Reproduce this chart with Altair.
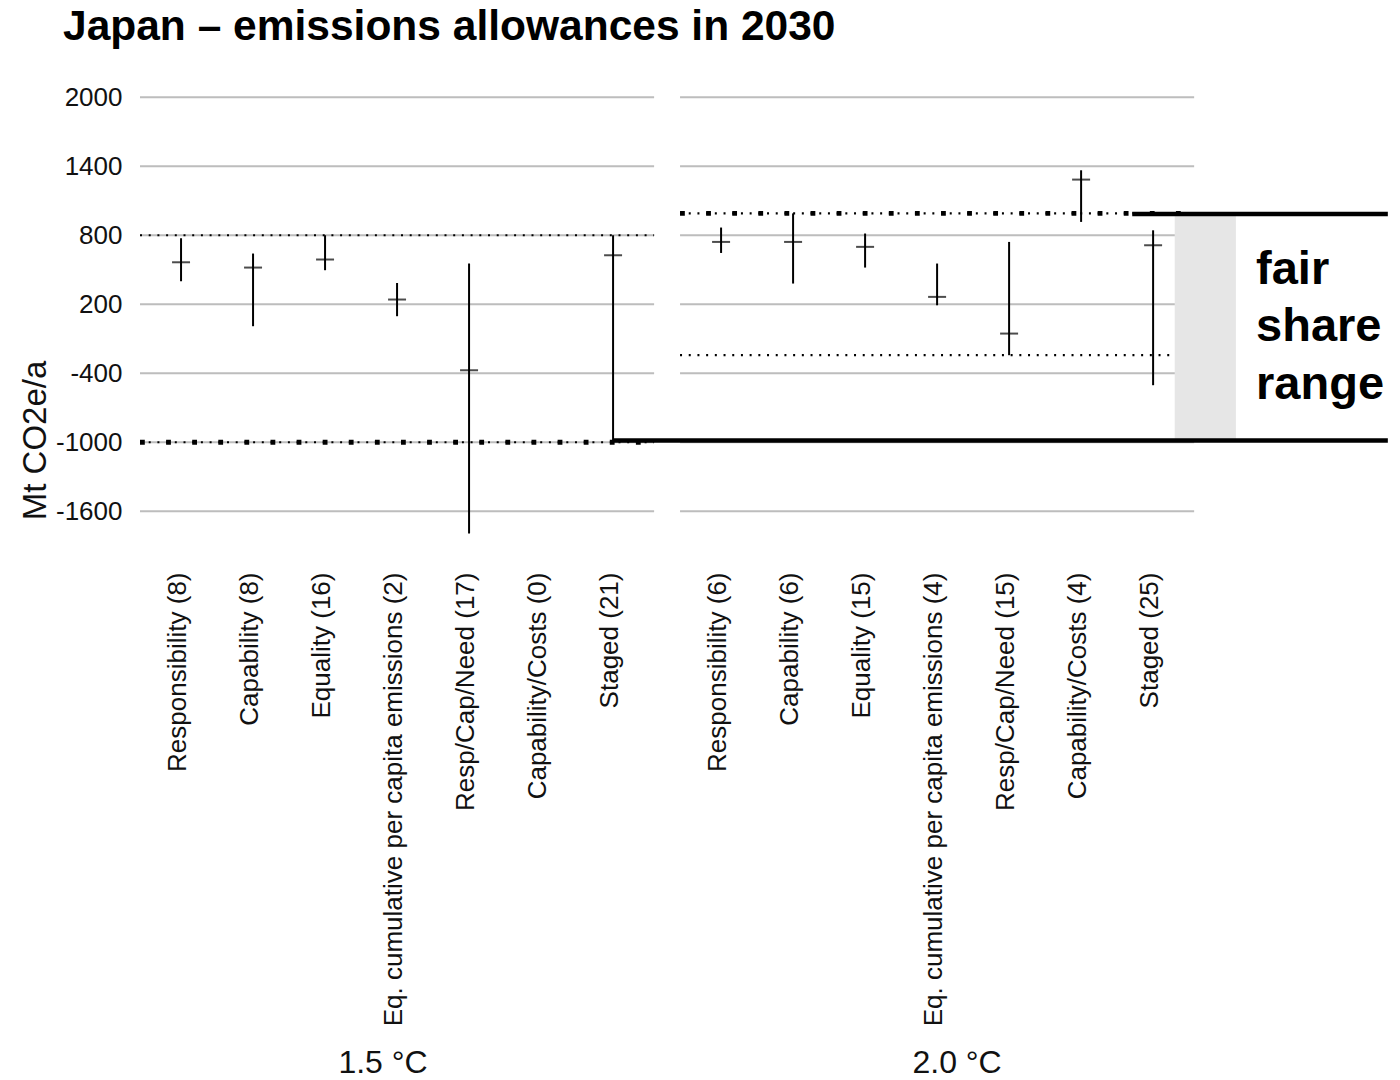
import json

import altair as alt
import pandas as pd

# ---- data -------------------------------------------------------------
panels = ["1.5 °C", "2.0 °C"]
categories = [
    "Responsibility",
    "Capability",
    "Equality",
    "Eq. cumulative per capita emissions",
    "Resp/Cap/Need",
    "Capability/Costs",
    "Staged",
]
counts_15 = [8, 8, 16, 2, 17, 0, 21]
counts_20 = [6, 6, 15, 4, 15, 4, 25]

median_15 = [565, 519, 589, 241, -374, None, 626]
low_15 = [400, 9, 496, 96, -1794, None, -1000]
high_15 = [774, 641, 800, 385, 554, None, 800]

median_20 = [742, 742, 699, 264, -55, 1284, 713]
low_20 = [646, 380, 519, 191, -243, 916, -504]
high_20 = [867, 990, 815, 554, 742, 1365, 843]

# panel-wide reference levels (upper, lower) and which one is the bold pattern
upper_ref = [800, 990]
lower_ref = [-1000, -243]
bold_ref = ["lower", "upper"]

fair_share = [-985, 985]
fair_share_label = ["fair", "share", "range"]
title_text = "Japan – emissions allowances in 2030"
y_title = "Mt CO2e/a"
y_ticks = [-1600, -1000, -400, 200, 800, 1400, 2000]

# ---- layout helpers ---------------------------------------------------
FONT = "Liberation Sans"
PANEL_STEP = 7.5          # slot distance between the two panels
HALF_SPAN = 3.57          # half width of one panel, in slots
ANNOT_END = 16.76         # right end of the fair-share brackets

counts = [counts_15, counts_20]
medians = [median_15, median_20]
lows = [low_15, low_20]
highs = [high_15, high_20]

def slot(p, i):
    return p * PANEL_STEP + i

tick_pos, tick_lab = [], []
for p in range(len(panels)):
    for i, c in enumerate(categories):
        tick_pos.append(slot(p, i))
        tick_lab.append(f"{c} ({counts[p][i]})")

cross_rows = []
for p in range(len(panels)):
    for i in range(len(categories)):
        if medians[p][i] is None:
            continue
        cross_rows.append(dict(x=slot(p, i), low=lows[p][i], high=highs[p][i], mid=medians[p][i]))
crosses = pd.DataFrame(cross_rows)

centers = [slot(p, (len(categories) - 1) / 2) for p in range(len(panels))]
grid_rows = [dict(x=c - HALF_SPAN, x2=c + HALF_SPAN, y=v) for c in centers for v in y_ticks]
grid = pd.DataFrame(grid_rows)

ref_rows, bold_rows = [], []
for p, c in enumerate(centers):
    for kind, v in (("upper", upper_ref[p]), ("lower", lower_ref[p])):
        row = dict(x=c - HALF_SPAN, x2=c + HALF_SPAN, y=v)
        ref_rows.append(row)
        if bold_ref[p] == kind:
            bold_rows.append(row)
refs = pd.DataFrame(ref_rows)
bold_refs = pd.DataFrame(bold_rows)

last = len(categories) - 1
brackets = pd.DataFrame([
    dict(x=slot(0, last), x2=ANNOT_END, y=fair_share[0]),
    dict(x=slot(1, last) - 0.29, x2=ANNOT_END, y=fair_share[1]),
])
band = pd.DataFrame([dict(x=slot(1, last) + 0.3, x2=slot(1, last) + 1.15,
                          y=fair_share[0], y2=fair_share[1])])
band_label = pd.DataFrame([dict(x=slot(1, last) + 1.43, y=sum(fair_share) / 2)])

label_expr = f"{json.dumps(tick_lab)}[indexof({json.dumps(tick_pos)}, datum.value)]"

x_scale = alt.Scale(domain=[-0.57, 16.79], nice=False, zero=False)
y_scale = alt.Scale(domain=[-1850, 2150], nice=False, zero=False)

x_axis = alt.Axis(
    values=tick_pos, labelExpr=label_expr, labelAngle=270, labelFontSize=26,
    labelPadding=32, labelOffset=-4, ticks=False, domain=False, grid=False, title=None,
    labelFont=FONT, labelColor="#111111", labelLimit=1000,
    labelOverlap=False, labelBound=False, labelFlush=False,
)
y_axis = alt.Axis(
    values=y_ticks, labelExpr="'' + datum.value", labelFontSize=26,
    labelPadding=18, ticks=False, domain=False,
    grid=False, title=y_title, titleFontSize=33, titleFontWeight="normal",
    titleFont=FONT, labelFont=FONT, labelColor="#111111", titleColor="#111111",
    titleX=-105, titleY=360, titleAngle=270, titleBaseline="middle",
    titleAlign="center", labelOverlap=False, labelFlush=False,
)

def X(field):
    return alt.X(f"{field}:Q", scale=x_scale, axis=x_axis)

def Y(field):
    return alt.Y(f"{field}:Q", scale=y_scale, axis=y_axis)

# ---- layers -------------------------------------------------------------
grid_layer = alt.Chart(grid).mark_rule(color="#bdbdbd", strokeWidth=2).encode(
    x=X("x"), x2="x2", y=Y("y"))

dots_layer = alt.Chart(refs).mark_rule(
    color="black", strokeWidth=2.2, strokeDash=[2, 6.7]).encode(
    x=X("x"), x2="x2", y=Y("y"))

squares_layer = alt.Chart(bold_refs).mark_rule(
    color="black", strokeWidth=4.8, strokeDash=[4.8, 21.3]).encode(
    x=X("x"), x2="x2", y=Y("y"))

range_layer = alt.Chart(crosses).mark_rule(color="black", strokeWidth=2).encode(
    x=X("x"), y=Y("low"), y2="high")

median_layer = alt.Chart(crosses).mark_tick(
    color="black", orient="horizontal", size=18, thickness=2).encode(
    x=X("x"), y=Y("mid"))

band_layer = alt.Chart(band).mark_rect(color="#e6e6e6").encode(
    x=X("x"), x2="x2", y=Y("y"), y2="y2")

bracket_layer = alt.Chart(brackets).mark_rule(color="black", strokeWidth=4.5).encode(
    x=X("x"), x2="x2", y=Y("y"))

band_text = alt.Chart(band_label).mark_text(
    text=fair_share_label, font=FONT, fontSize=47, fontWeight="bold",
    align="left", baseline="middle", lineHeight=57.5, color="black",
    dy=-57.5).encode(
    x=X("x"), y=Y("y"))

panel_left = alt.Chart(pd.DataFrame([dict(x=centers[0], t=panels[0])])).mark_text(
    font=FONT, fontSize=32, baseline="middle", color="#111111", dx=-14).encode(
    x=X("x"), y=alt.value(983), text="t:N")

panel_right = alt.Chart(pd.DataFrame([dict(x=centers[1], t=panels[1])])).mark_text(
    font=FONT, fontSize=32, baseline="middle", color="#111111", dx=20).encode(
    x=X("x"), y=alt.value(983), text="t:N")

title_layer = alt.Chart(pd.DataFrame([dict(t=title_text)])).mark_text(
    font=FONT, fontSize=42.5, fontWeight="bold", align="left",
    baseline="alphabetic", color="black").encode(
    x=alt.value(-77), y=alt.value(-40), text="t:N")

chart = alt.layer(
    grid_layer, dots_layer, squares_layer, range_layer, median_layer,
    band_layer, bracket_layer, band_text, panel_left, panel_right, title_layer,
).properties(
    width=1250, height=460,
    autosize=alt.AutoSizeParams(type="none"),
    padding={"left": 140, "top": 80, "right": 10, "bottom": 540},
    background="white",
).configure_view(strokeWidth=0)

chart.save("out.html", embed_options={"renderer": "svg", "actions": False})
